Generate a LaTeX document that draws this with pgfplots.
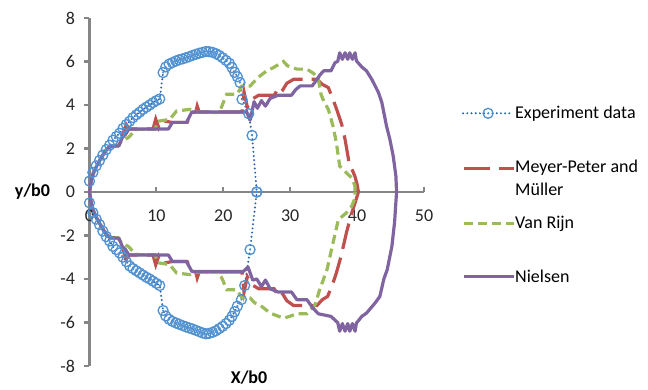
\documentclass[border=0pt]{standalone}
\usepackage{pgfplots}
\pgfplotsset{compat=1.18}
\usepackage{fontspec}
\setmainfont{Carlito}

\definecolor{expline}{RGB}{40,100,180}
\definecolor{expmark}{RGB}{80,145,210}
\definecolor{mpm}{RGB}{192,80,77}
\definecolor{vrijn}{RGB}{155,187,89}
\definecolor{niel}{RGB}{128,100,162}
\definecolor{axgray}{RGB}{134,134,134}

% open circle with a small dot in its centre
\pgfdeclareplotmark{odot}{%
  \pgfpathcircle{\pgfpointorigin}{\pgfplotmarksize}\pgfusepathqstroke
  \pgfpathcircle{\pgfpointorigin}{0.22\pgfplotmarksize}\pgfusepathqfill}

\pgfplotsset{
  wideleg/.style={legend image code/.code={%
    \draw[mark repeat=2,mark phase=2,##1] plot coordinates {(0pt,0pt)(25pt,0pt)(50pt,0pt)};}},
  exp/.style={expline, line width=2.2pt, dash pattern=on 0pt off 4.2pt, line cap=round,
    mark=odot, mark size=5pt, mark options={expmark, solid, line width=1.3pt, fill=expmark}},
  mpmstyle/.style={mpm, line width=3.2pt, dash pattern=on 26pt off 9pt, no markers},
  vrstyle/.style={vrijn, line width=3.2pt, dash pattern=on 9pt off 5pt, no markers},
  nstyle/.style={niel, line width=3.2pt, solid, no markers, line join=round},
  % frame shared by the main axis and the legend-key axes
  frame/.style={at={(0pt,0pt)}, anchor=south west, scale only axis,
    width=334.5pt, height=348pt},
  % one legend key, its line centred at the given height
  keyaxis/.style={frame, xmin=0, xmax=1, ymin=0, ymax=1, hide axis,
    legend style={at={(1.1136,#1)}, anchor=west, draw=none, fill=none,
      inner sep=0pt, outer sep=0pt, column sep=0pt, nodes={inner sep=0pt}}},
}
\tikzset{legtext/.style={anchor=base west, inner sep=0pt, font=\fontsize{18}{22}\selectfont}}

\begin{document}
\begin{tikzpicture}
\useasboundingbox (-89.5pt,-24pt) rectangle (558.5pt,366pt);
\begin{axis}[
  frame,
  xmin=0, xmax=50, ymin=-8, ymax=8,
  axis x line=middle, axis y line=left,
  axis line style={-, draw=axgray, line width=2.6pt},
  xtick={0,10,...,50}, ytick={-8,-6,...,8},
  xtick align=inside, ytick align=outside,
  major tick length=5pt,
  major tick style={draw=axgray, line width=2.2pt},
  /pgf/number format/assume math mode=true,
  tick label style={font=\fontsize{18}{22}\selectfont, text=black!85},
  yticklabel style={xshift=-6pt},
  xticklabel style={yshift=-14pt},
  xlabel={X/b0}, ylabel={y/b0},
  every axis x label/.style={at={(axis description cs:0.477,0)}, anchor=center,
    yshift=-12pt, font=\fontsize{18}{22}\selectfont\bfseries},
  every axis y label/.style={at={(axis description cs:0,0.5)}, anchor=center,
    xshift=-57pt, font=\fontsize{18}{22}\selectfont\bfseries},
  clip=false,
]

% experiment, upper branch
\addplot[exp] coordinates {
(0,0.5) (0.5,0.9) (1.0,1.2) (1.5,1.45) (2.0,1.7) (2.5,1.95) (3.0,2.15) (3.5,2.38)
(4.0,2.55) (4.5,2.7) (5.0,2.92) (5.5,3.1) (6.0,3.25) (6.5,3.42) (7.0,3.55) (7.5,3.67)
(8.0,3.8) (8.5,3.9) (9.0,4.0) (9.5,4.11) (10.0,4.2) (10.5,4.28)
(11.0,5.49) (11.4,5.75) (11.9,5.88) (12.4,5.95) (12.9,6.02) (13.4,6.08) (13.9,6.12)
(14.4,6.17) (14.9,6.22) (15.4,6.28) (15.9,6.33) (16.4,6.38) (16.9,6.42) (17.4,6.46)
(17.9,6.45) (18.4,6.42) (18.9,6.36) (19.4,6.28) (19.9,6.17) (20.4,6.05) (20.9,5.92)
(21.3,5.72) (21.7,5.5) (22.1,5.3) (22.5,5.03) (22.8,4.26) (23.8,3.6) (24.3,2.6) (25.0,0)
};
% experiment, lower branch
\addplot[exp] coordinates {
(0,-0.5) (0.5,-0.95) (1.0,-1.25) (1.5,-1.5) (2.0,-1.8) (2.5,-2.05) (3.0,-2.25) (3.5,-2.5)
(4.0,-2.65) (4.5,-2.8) (5.0,-3.0) (5.5,-3.2) (6.0,-3.4) (6.5,-3.52) (7.0,-3.62) (7.5,-3.72)
(8.0,-3.82) (8.5,-3.92) (9.0,-4.0) (9.5,-4.1) (10.0,-4.2) (10.5,-4.3)
(11.0,-5.45) (11.4,-5.7) (11.9,-5.85) (12.4,-5.95) (12.9,-6.02) (13.4,-6.08) (13.9,-6.14)
(14.4,-6.2) (14.9,-6.25) (15.4,-6.3) (15.9,-6.36) (16.4,-6.42) (16.9,-6.48) (17.4,-6.52)
(17.9,-6.5) (18.4,-6.45) (18.9,-6.38) (19.4,-6.28) (19.9,-6.18) (20.4,-6.05) (20.9,-5.9)
(21.3,-5.72) (21.7,-5.5) (22.1,-5.25) (22.7,-4.95) (23.2,-4.3) (24.0,-2.65) (25.0,0)
};

% Meyer-Peter and Mueller, upper and lower
\addplot[mpmstyle] coordinates {
(0,0) (0.3,0.6) (0.7,0.95) (1.2,1.25) (1.8,1.6) (2.4,1.9) (3.0,2.1) (4.2,2.1) (4.8,2.5)
(5.5,3.1) (5.9,2.9) (9.5,2.9) (9.9,3.35) (10.3,3.0) (10.6,3.3) (12.3,3.2) (14.6,3.2)
(15.3,3.65) (15.9,3.68) (16.1,3.95) (16.4,3.68) (22.8,3.68) (23.1,4.6) (23.6,3.9)
(24.2,4.25) (25.3,4.45) (27.6,4.45) (28.4,4.85) (28.9,4.7) (29.5,5.0) (30.5,5.18)
(34.0,5.18) (34.8,4.95) (35.7,4.8) (36.4,4.26) (37.0,3.75) (37.7,3.11) (38.2,2.42)
(38.8,1.35) (39.3,1.0) (39.7,0.7) (40.0,0.35) (40.2,0)
};
\addplot[mpmstyle] coordinates {
(0,0) (0.3,-0.6) (0.7,-0.95) (1.2,-1.25) (1.8,-1.6) (2.4,-1.9) (3.0,-2.1) (4.2,-2.1) (4.8,-2.5)
(5.5,-3.1) (5.9,-2.9) (9.5,-2.9) (9.9,-3.35) (10.3,-3.0) (10.6,-3.3) (12.3,-3.2) (14.6,-3.2)
(15.3,-3.65) (15.9,-3.68) (16.1,-3.95) (16.4,-3.68) (22.8,-3.68) (23.1,-4.6) (23.6,-3.9)
(24.2,-4.25) (25.3,-4.45) (27.6,-4.45) (28.4,-4.85) (28.9,-4.7) (29.5,-5.0) (30.5,-5.22)
(34.0,-5.22) (34.8,-4.95) (35.6,-4.8) (36.4,-4.18) (36.9,-3.72) (37.6,-2.96) (38.4,-1.88)
(39.2,-0.96) (39.7,-0.5) (40.0,-0.2) (40.2,0)
};

% Van Rijn, upper and lower
\addplot[vrstyle] coordinates {
(0,0) (0.3,0.6) (0.7,0.95) (1.2,1.25) (1.8,1.6) (2.4,1.9) (3.0,2.1) (4.2,2.1) (4.8,2.35)
(5.8,2.5) (6.5,2.73) (7.2,2.88) (9.8,2.88) (10.2,3.25) (12.0,3.34) (13.0,3.72) (15.0,3.8)
(16.0,3.68) (19.4,3.65) (20.0,4.11) (20.5,4.49) (22.0,4.49) (22.8,4.87) (24.0,4.87)
(24.7,5.1) (25.5,5.34) (26.5,5.57) (27.5,5.72) (29.0,6.0) (29.6,5.8) (31.0,5.65)
(32.5,5.65) (33.5,5.45) (34.2,5.2) (34.6,4.5) (35.0,4.18) (35.7,3.8) (36.4,3.03)
(36.9,2.27) (37.4,1.19) (38.4,0.88) (39.2,0.65) (39.7,0.27) (39.7,0)
};
\addplot[vrstyle] coordinates {
(0,0) (0.3,-0.6) (0.7,-0.95) (1.2,-1.25) (1.8,-1.6) (2.4,-1.9) (3.0,-2.1) (4.2,-2.1) (4.8,-2.35)
(5.8,-2.5) (6.5,-2.73) (7.2,-2.88) (9.8,-2.88) (10.2,-3.25) (12.0,-3.34) (13.0,-3.72) (15.0,-3.8)
(16.0,-3.68) (19.4,-3.7) (20.0,-4.11) (20.5,-4.49) (22.0,-4.49) (22.8,-4.87) (24.0,-4.87)
(24.7,-5.1) (25.5,-5.2) (27.0,-5.57) (29.0,-5.8) (29.6,-5.75) (31.0,-5.6)
(32.5,-5.6) (33.7,-5.2) (34.4,-4.5) (35.5,-3.57) (36.4,-2.34) (37.2,-1.27)
(38.4,-0.96) (39.2,-0.65) (39.7,-0.27) (39.7,0)
};

% Nielsen, upper and lower
\addplot[nstyle] coordinates {
(0,0) (0.3,0.6) (0.6,0.9) (1.0,1.15) (1.6,1.5) (2.2,1.8) (2.7,2.0) (3.2,2.12) (4.4,2.12)
(4.9,2.5) (5.4,2.65) (5.9,2.9) (11.8,2.9) (12.4,3.2) (14.5,3.2) (15.3,3.68) (23.5,3.68)
(24.0,3.3) (24.6,4.15) (25.1,3.85) (25.7,4.2) (26.3,3.95) (27.0,4.3) (28.2,4.45)
(30.2,4.45) (30.8,4.7) (31.5,4.88) (33.3,4.88) (34.0,5.18) (34.5,5.4) (35.0,5.57)
(36.1,5.57) (36.7,5.95) (37.1,6.0) (37.4,6.4) (37.8,6.1) (38.2,6.4) (38.6,6.1) (38.9,6.4)
(39.3,6.1) (39.7,6.4) (39.9,6.03) (40.7,5.75) (41.4,5.57) (42.2,5.18) (43.2,4.57)
(43.7,4.11) (44.4,3.03) (44.9,2.42) (45.4,1.65) (45.8,0.73) (45.9,0)
};
\addplot[nstyle] coordinates {
(0,0) (0.3,-0.6) (0.6,-0.9) (1.0,-1.15) (1.6,-1.5) (2.2,-1.8) (2.7,-2.0) (3.2,-2.12) (4.4,-2.12)
(4.9,-2.5) (5.4,-2.65) (5.9,-2.9) (11.8,-2.9) (12.4,-3.2) (14.5,-3.2) (15.3,-3.65) (23.0,-3.65)
(23.7,-3.45) (24.4,-4.05) (25.0,-4.0) (25.7,-4.35) (26.3,-4.05) (27.0,-4.45) (28.2,-4.6)
(30.2,-4.6) (31.0,-4.95) (32.5,-4.95) (33.3,-5.3) (34.2,-5.6) (35.0,-5.65)
(36.1,-5.72) (36.9,-5.95) (37.1,-6.0) (37.4,-6.4) (37.8,-6.05) (38.2,-6.4) (38.6,-6.05) (38.9,-6.4)
(39.3,-6.05) (39.7,-6.4) (39.9,-6.03) (40.7,-5.72) (41.4,-5.57) (42.7,-5.1) (43.4,-4.8)
(44.0,-4.0) (44.5,-3.57) (45.2,-2.5) (45.6,-1.4) (45.9,0)
};

% tick label for the origin of the horizontal axis
\node[font=\fontsize{18}{22}\selectfont, text=black!85, anchor=north, yshift=-14pt,
  inner sep=0.333em] at (axis cs:0,0) {0};

% legend texts
\node[legtext] at (axis description cs:1.2720,0.7098) {Experiment data};
\node[legtext] at (axis description cs:1.2720,0.5546) {Meyer-Peter and};
\node[legtext] at (axis description cs:1.2720,0.4885) {Müller};
\node[legtext] at (axis description cs:1.2720,0.3937) {Van Rijn};
\node[legtext] at (axis description cs:1.2720,0.2399) {Nielsen};
\end{axis}

% legend keys
\begin{axis}[keyaxis=0.7261]
\addlegendimage{exp, wideleg}
\addlegendentry{\phantom{}}
\end{axis}
\begin{axis}[keyaxis=0.5681]
\addlegendimage{mpmstyle, wideleg}
\addlegendentry{\phantom{}}
\end{axis}
\begin{axis}[keyaxis=0.4101]
\addlegendimage{vrstyle, wideleg}
\addlegendentry{\phantom{}}
\end{axis}
\begin{axis}[keyaxis=0.2566]
\addlegendimage{nstyle, wideleg}
\addlegendentry{\phantom{}}
\end{axis}
\end{tikzpicture}
\end{document}
